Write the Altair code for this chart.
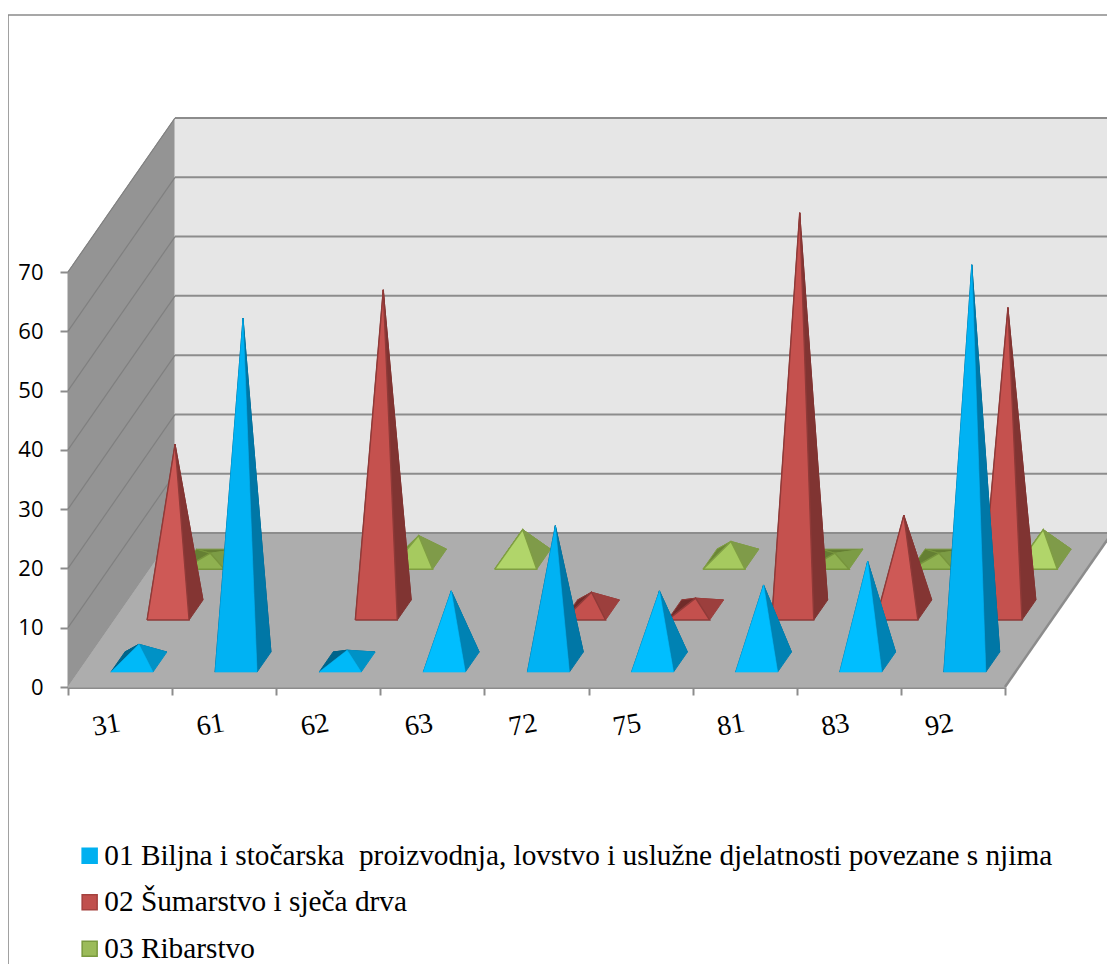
import altair as alt
import pandas as pd

categories = ["31", "61", "62", "63", "72", "75", "81", "83", "92"]
blue_values = [3, 58, 2, 12, 23, 12, 13, 17, 67]
red_values = [28, 0, 54, 0, 3, 2, 67, 16, 51]
green_values = [1, 0, 4, 5, 0, 3, 1, 1, 5]
series_names = [
    "01 Biljna i stočarska\u00a0 proizvodnja, lovstvo i uslužne djelatnosti povezane s njima",
    "02 Šumarstvo i sječa drva",
    "03 Ribarstvo",
]
series_colors = ["#00B0F0", "#C0504D", "#9BBB59"]
series_outline = ["#00B0F0", "#A5423F", "#7A9A3E"]
y_ticks = list(range(0, 71, 10))

W, H = 1099, 956
OFF = 8
X0, Y0, X1 = 68, 687, 1005
DX, DY = 107, 154
UNIT_Y = 415 / 70
CAT_W = (X1 - X0) / len(categories)
BASE_W = 42
BASE_D = 0.13


def proj(x, depth, value=0):
    return (x + depth * DX, Y0 - depth * DY - value * UNIT_Y)


def blue_shade(v):
    if v >= 20:
        return dict(front="#00B2F3", right="#0077A6", back="#005F85", left="#005F85", edge=None)
    if v >= 5:
        return dict(front="#00BEFF", right="#0082B3", back="#006A92", left="#006A92", edge=None)
    return dict(front="#00B9F8", right="#0092C6", back="#00648A", left="#00648A", edge=None)


def red_shade(v):
    if v >= 40:
        return dict(front="#C5514E", right="#803432", back="#702C2A", left="#702C2A", edge="#8F3A38")
    if v >= 10:
        return dict(front="#CE5956", right="#843533", back="#702C2A", left="#702C2A", edge="#8F3A38")
    return dict(front="#C4504D", right="#9C3F3D", back="#702C2A", left="#702C2A", edge="#8F3A38")


def green_shade(v):
    if v >= 5:
        return dict(front="#B1D56A", right="#7F9B49", back="#6B8636", left="#6B8636", edge="#7F9E42")
    if v >= 3:
        return dict(front="#A6CA5F", right="#7F9B49", back="#6B8636", left="#6B8636", edge="#7F9E42")
    return dict(front="#8FB150", right="#7C9C45", back="#657F33", left="#657F33", edge="#77953C")


wall_rows = []
pyramid_rows = []
lines = []
fid = 0


def add_poly(target, points, fill, stroke=None, width=1.0):
    global fid
    fid += 1
    pts = list(points) + [points[0]]
    for i, (x, y) in enumerate(pts):
        target.append(dict(face=f"f{fid:04d}", i=i, x=x, y=y, fill=fill,
                           stroke=stroke or fill, sw=width))


def add_line(a, b, color, width):
    global fid
    fid += 1
    for i, (x, y) in enumerate((a, b)):
        lines.append(dict(face=f"l{fid:04d}", i=i, x=x, y=y, stroke=color, sw=width))


# walls and floor, projected from the value and depth axes
add_poly(wall_rows, [proj(X0, 0, 0), proj(X0, 1, 0), proj(X0, 1, 70), proj(X0, 0, 70)], "#949494")
add_poly(wall_rows, [proj(X0, 1, 0), proj(X1, 1, 0), proj(X1, 1, 70), proj(X0, 1, 70)], "#E6E6E6")
add_poly(wall_rows, [proj(X0, 0, 0), proj(X1, 0, 0), proj(X1, 1, 0), proj(X0, 1, 0)], "#ADADAD")

for t in y_ticks:
    add_line(proj(X0, 1, t), proj(X1, 1, t), "#8C8C8C", 2)
    if t > 0:
        add_line(proj(X0, 0, t), proj(X0, 1, t), "#808080", 1.2)
add_line(proj(X1, 0, 0), proj(X1, 1, 0), "#8C8C8C", 2.5)

# frame of the picture
add_line((8, 972), (8, 15), "#8A8A8A", 1.6)
add_line((8, 15), (1115, 15), "#8A8A8A", 1.6)


def pyramid(k, center_depth, v, shade):
    s = shade(v)
    cx = X0 + CAT_W * (k + 0.5) + 1.5
    dn, df = center_depth - BASE_D / 2, center_depth + BASE_D / 2
    fl = proj(cx - BASE_W / 2, dn)
    fr = proj(cx + BASE_W / 2, dn)
    br = proj(cx + BASE_W / 2, df)
    bl = proj(cx - BASE_W / 2, df)
    apex = proj(cx, center_depth, v)
    add_poly(pyramid_rows, [bl, br, apex], s["back"], s["edge"] or s["back"])
    add_poly(pyramid_rows, [fl, bl, apex], s["left"], s["edge"] or s["left"])
    add_poly(pyramid_rows, [fr, br, apex], s["right"], s["right"])
    add_poly(pyramid_rows, [fl, fr, apex], s["front"], s["edge"] or s["front"], 1.4 if s["edge"] else 0.6)


for depth, vals, shade in [
    (0.83, green_values, green_shade),
    (0.50, red_values, red_shade),
    (0.162, blue_values, blue_shade),
]:
    for k, v in enumerate(vals):
        if v > 0:
            pyramid(k, depth, v, shade)

px = alt.Scale(domain=[OFF, OFF + W], range=[0, W], nice=False, zero=False)
py = alt.Scale(domain=[OFF, OFF + H], range=[0, H], nice=False, zero=False)


def polygons(table):
    return alt.Chart(pd.DataFrame(table)).mark_line(interpolate="linear", strokeJoin="miter", clip=True).encode(
        x=alt.X("x:Q", scale=px, axis=None),
        y=alt.Y("y:Q", scale=py, axis=None),
        detail="face:N",
        order=alt.Order("i:Q"),
        fill=alt.Fill("fill:N", scale=None),
        stroke=alt.Stroke("stroke:N", scale=None),
        strokeWidth=alt.StrokeWidth("sw:Q", scale=None),
    )


wires = alt.Chart(pd.DataFrame(lines)).mark_line(interpolate="linear", clip=True).encode(
    x=alt.X("x:Q", scale=px, axis=None),
    y=alt.Y("y:Q", scale=py, axis=None),
    detail="face:N",
    order=alt.Order("i:Q"),
    stroke=alt.Stroke("stroke:N", scale=None),
    strokeWidth=alt.StrokeWidth("sw:Q", scale=None),
)

long = pd.DataFrame(
    [dict(cat=c, v=v, s=series_names[0]) for c, v in zip(categories, blue_values)]
    + [dict(cat=c, v=v, s=series_names[1]) for c, v in zip(categories, red_values)]
    + [dict(cat=c, v=v, s=series_names[2]) for c, v in zip(categories, green_values)]
)

legend = alt.Legend(
    orient="none", legendX=67, legendY=833, title=None, padding=0, symbolType="square",
    symbolSize=225, symbolOpacity=1, symbolStrokeWidth=1.5, labelFont="Liberation Serif", labelFontSize=29.3,
    labelColor="black", rowPadding=16.5, labelLimit=1100, labelOffset=0,
)

guide = alt.Chart(long).mark_point(shape="square", filled=True, opacity=0).encode(
    x=alt.X(
        "cat:N",
        sort=categories,
        title=None,
        scale=alt.Scale(domain=categories, range=[X0 - OFF, X1 - OFF], paddingInner=0, paddingOuter=0),
        axis=alt.Axis(
            orient="bottom", offset=-(OFF + H - Y0), labelAngle=-10, labelAlign="center",
            labelBaseline="middle", labelFont="Liberation Serif", labelFontSize=28, labelColor="black",
            labelPadding=30, labelOffset=-14, tickBand="extent", tickSize=8, tickColor="#8C8C8C", tickWidth=2,
            domainColor="#8C8C8C", domainWidth=3, grid=False,
        ),
    ),
    y=alt.Y(
        "v:Q",
        title=None,
        scale=alt.Scale(domain=[0, 70], range=[Y0 - OFF, Y0 - OFF - 415], nice=False),
        axis=alt.Axis(
            orient="left", offset=-(X0 - OFF), values=y_ticks, domain=False, grid=False,
            labelFont="Open Sans", labelFontSize=22, labelColor="black", labelPadding=17,
            tickSize=8, tickColor="#8C8C8C", tickWidth=2,
        ),
    ),
    fill=alt.Fill(
        "s:N",
        sort=series_names,
        scale=alt.Scale(domain=series_names, range=series_colors),
        legend=legend,
    ),
    stroke=alt.Stroke(
        "s:N",
        sort=series_names,
        scale=alt.Scale(domain=series_names, range=series_outline),
        legend=legend,
    ),
)

chart = (
    alt.layer(polygons(wall_rows), wires, polygons(pyramid_rows), guide)
    .resolve_scale(x="independent", y="independent")
    .properties(width=W, height=H, padding=0, autosize=alt.AutoSizeParams(type="none"), background="white")
    .configure_view(stroke=None)
)

chart.save("out.html", embed_options={"renderer": "svg", "actions": False})
